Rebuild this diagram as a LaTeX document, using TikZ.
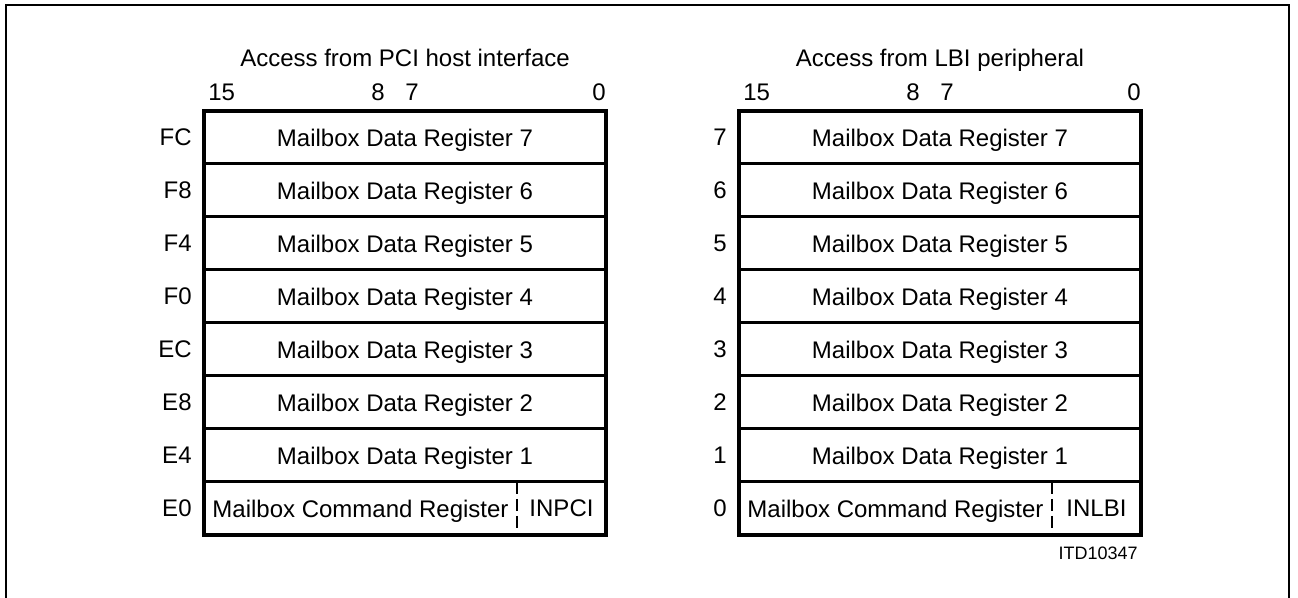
\documentclass[tikz,border=0pt]{standalone}
\usepackage{fontspec}
\setmainfont{Liberation Sans}
\usetikzlibrary{positioning}
\tikzset{
  reg/.style     = {rectangle, minimum width=201pt, minimum height=26.5pt,
                    inner sep=0pt, outer sep=0pt, text depth=0pt,
                    font=\fontsize{12}{14}\selectfont},
  cmdreg/.style  = {reg, minimum width=156.5pt},
  flagreg/.style = {reg, minimum width=44.5pt},
  lbl/.style     = {inner sep=0pt, text depth=0pt, font=\fontsize{12}{14}\selectfont},
  tag/.style     = {inner sep=0pt, font=\fontsize{9}{11}\selectfont},
  frame/.style   = {line width=1pt},
  rowline/.style = {line width=1.5pt},
  outline/.style = {line width=2pt},
  split/.style   = {line width=0.6pt, dash pattern=on 6pt off 2.5pt},
}
\begin{document}
\begin{tikzpicture}[x=0.5pt, y=-0.5pt]
  \useasboundingbox (0,0) rectangle (1298,598);
  \draw[frame] (6,600) |- (1289,5) -- (1289,600);
  \foreach \p/\ox/\head/\flg/\addrs in {
      l/204/{Access from PCI host interface}/INPCI/{7/FC,6/F8,5/F4,4/F0,3/EC,2/E8,1/E4,cmd/E0},
      r/739/{Access from LBI peripheral}/INLBI/{7/7,6/6,5/5,4/4,3/3,2/2,1/1,cmd/0}}{
    % register rows
    \node[reg, anchor=north west] (\p7) at (\ox,111) {Mailbox Data Register 7};
    \foreach \i [evaluate=\i as \j using int(\i+1)] in {6,...,1}
      \node[reg, below=0pt of \p\j] (\p\i) {Mailbox Data Register \i};
    \node[cmdreg, below right=0pt and 0pt of \p1.south west] (\p cmd) {Mailbox Command Register};
    \node[flagreg, right=0pt of \p cmd] (\p flg) {\flg};
    \foreach \i in {7,...,1}
      \draw[rowline] (\p\i.south west) -- (\p\i.south east);
    \draw[split] (\p cmd.north east) -- (\p cmd.south east);
    \draw[outline] (\p7.north west) rectangle (\p flg.south east);
    % addresses, bit numbers, heading
    \foreach \r/\a in \addrs
      \node[lbl, left=6pt of \p\r] (\p a\r) {\a};
    \node[lbl, above right=5pt and 2pt of \p7.north west] (\p b15) {15};
    \node[lbl, above left=5pt and 10pt of \p7.north] (\p b8) {8};
    \node[lbl, above right=5pt and 0pt of \p7.north] (\p b7) {7};
    \node[lbl, above left=5pt and 0pt of \p7.north east] (\p b0) {0};
    \node[lbl, above=22pt of \p7.north, anchor=base] (\p head) {\head};
  }
  \node[tag, below left=6pt and 1.5pt of rflg.south east] (itd) {ITD10347};
\end{tikzpicture}
\end{document}
